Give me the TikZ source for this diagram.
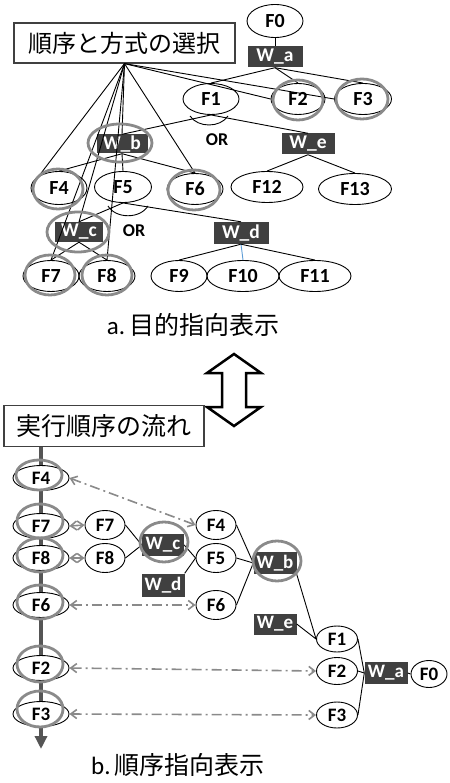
\documentclass[tikz,border=0pt]{standalone}
\usepackage{fontspec}
\setmainfont{Carlito}
\newfontfamily\jp{Noto Sans CJK JP}
\usetikzlibrary{arrows.meta,shapes.geometric}
\definecolor{wfill}{HTML}{404040}
\definecolor{gcol}{HTML}{8A8A8A}
\definecolor{flow}{HTML}{555555}
\definecolor{blueln}{HTML}{5B9BD5}
\tikzset{
  fn/.style={ellipse, draw, line width=0.9pt, inner sep=0pt, minimum width=56pt, minimum height=31pt, font=\bfseries\fontsize{20}{20}\selectfont},
  fw/.style={fn, minimum width=72pt},
  wbox/.style={rectangle, fill=wfill, text=white, inner sep=0pt, minimum width=53pt, minimum height=21pt, font=\bfseries\fontsize{19.5}{19.5}\selectfont},
  bn/.style={ellipse, draw, fill=white, line width=0.9pt, inner sep=0pt, minimum width=40pt, minimum height=29pt, font=\bfseries\fontsize{19}{19}\selectfont},
  ln/.style={ellipse, draw, fill=white, line width=0.9pt, inner sep=0pt, minimum width=56pt, minimum height=25pt, font=\bfseries\fontsize{19}{19}\selectfont},
  bw/.style={rectangle, fill=wfill, text=white, inner sep=0pt, minimum width=42pt, minimum height=22pt, font=\bfseries\fontsize{19}{19}\selectfont},
  ring/.style={draw=gcol, line width=2.8pt},
  conn/.style={draw, line width=0.9pt},
  titlebox/.style={rectangle, draw=wfill, line width=1.2pt, fill=white, inner sep=0pt, font=\jp\fontsize{24}{24}\selectfont},
  corr/.style={draw=gcol, line width=1.6pt, dash pattern=on 10pt off 4pt on 2pt off 4pt, {Straight Barb[length=6pt,width=9pt]}-{Straight Barb[length=6pt,width=9pt]}},
  captxt/.style={font=\fontsize{25}{25}\selectfont}
}
\begin{document}
\begin{tikzpicture}[x=1pt,y=-1pt]
\useasboundingbox (0,0) rectangle (449,783);
% ---------------- part a ----------------
\node[titlebox, minimum width=221pt, minimum height=40pt] (sel) at (124.5,43) {順序と方式の選択};
\node[fn, minimum height=33pt] (F0) at (275,21) {F0};
\node[wbox, minimum width=55pt] (Wa) at (275,57) {W\_a};
\node[fn] (F1) at (211,99) {F1};
\node[fn, minimum width=54pt] (F2) at (298,99) {F2};
\node[fn, minimum width=57pt] (F3) at (363,99) {F3};
\node[wbox, minimum width=51pt, minimum height=19pt] (Wb) at (122,144) {W\_b};
\node[wbox] (We) at (308,144) {W\_e};
\node[fn, minimum height=33pt] (F4) at (59,188) {F4};
\node[fn, minimum width=57pt] (F5) at (123,187) {F5};
\node[fn] (F6) at (195,189) {F6};
\node[fw] (F12) at (267,187) {F12};
\node[fw, minimum width=73pt] (F13) at (355,189) {F13};
\node[wbox, minimum width=48pt, minimum height=20pt] (Wc) at (79,232) {W\_c};
\node[wbox, minimum width=55pt, minimum height=22pt] (Wd) at (241,233) {W\_d};
\node[fn] (F7) at (51,276) {F7};
\node[fn] (F8) at (107,276) {F8};
\node[fn] (F9) at (179,276) {F9};
\node[fw] (F10) at (243,276) {F10};
\node[fw] (F11) at (315,276) {F11};
\node[font=\bfseries\fontsize{18}{18}\selectfont] (or1) at (217,140) {OR};
\node[font=\bfseries\fontsize{18}{18}\selectfont] (or2) at (134,231) {OR};
% tree connectors
\draw[conn] (F0.south) -- (Wa.north);
\draw[conn] (Wa.south) -- (F1.north);
\draw[conn] (Wa.south) -- (F2.north);
\draw[conn] (Wa.south) -- (F3.north);
\draw[conn] (F1.south) -- (Wb.north);
\draw[conn] (F1.south) -- (We.north);
\draw[conn] (190,116) .. controls (198,128) and (220,128) .. (228,116);
\draw[conn] (Wb.south) -- (F4.north);
\draw[conn] (Wb.south) -- (F5.north);
\draw[conn] (Wb.south) -- (F6.north);
\draw[conn] (We.south) -- (F12.north);
\draw[conn] (We.south) -- (F13.north);
\draw[conn] (F5.south) -- (Wc.north);
\draw[conn] (F5.south) -- (Wd.north);
\draw[conn] (108,206) .. controls (116,219) and (140,219) .. (148,206);
\draw[conn] (Wc.south) -- (F7.north);
\draw[conn] (Wc.south) -- (F8.north);
\draw[conn] (Wd.south) -- (F9.north);
\draw[conn, draw=blueln] (Wd.south) -- (F10.north);
\draw[conn] (Wd.south) -- (F11.north);
% selection lines
\draw[conn] (sel.south) -- (F4.north west);
\draw[conn] (sel.south) -- (Wb.north);
\draw[conn] (sel.south) -- (F7.north);
\draw[conn] (sel.south) -- (Wc.north);
\draw[conn] (sel.south) -- (F8.north);
\draw[conn] (sel.south) -- (F6.north);
\draw[conn] (sel.south) -- (F2.west);
\draw[conn] (sel.south) -- (F3.west);
% rings
\draw[ring] (298,100) ellipse [x radius=25, y radius=20];
\draw[ring] (362,99) ellipse [x radius=26, y radius=20];
\draw[ring] (120,143) ellipse [x radius=32, y radius=19];
\draw[ring] (58,189) ellipse [x radius=25, y radius=20];
\draw[ring] (194,190) ellipse [x radius=26, y radius=20];
\draw[ring] (78,232) ellipse [x radius=31, y radius=20];
\draw[ring] (50,275) ellipse [x radius=25, y radius=20];
\draw[ring] (107,275) ellipse [x radius=25, y radius=20];
\node[captxt] (capa) at (193,325) {a.\,{\jp 目的指向表示}};
% ---------------- double arrow ----------------
\draw[line width=2.5pt, line join=miter] (234,354) -- (207,373) -- (222,373) -- (222,407) -- (207,407) -- (234,426) -- (261,407) -- (246,407) -- (246,373) -- (261,373) -- cycle;
% ---------------- part b ----------------
\node[titlebox, minimum width=200pt, minimum height=41pt, font=\jp\fontsize{25}{25}\selectfont] (flowbox) at (104,426) {実行順序の流れ};
\coordinate (flowend) at (41,749);
\draw[flow, line width=4pt, -{Triangle[length=13pt,width=12pt]}] (41,447) -- (flowend);
\node[ln] (L4) at (41,478) {F4};
\node[ln] (L7) at (41,526) {F7};
\node[ln] (L8) at (41,558) {F8};
\node[ln] (L6) at (41,605) {F6};
\node[ln] (L2) at (41,668) {F2};
\node[ln] (L3) at (41,714) {F3};
\draw[ring] (39,475) ellipse [x radius=23, y radius=15];
\draw[ring] (40,521) ellipse [x radius=23, y radius=17];
\draw[ring] (40,555) ellipse [x radius=23, y radius=17];
\draw[ring] (40,602) ellipse [x radius=23, y radius=17];
\draw[ring] (40,664) ellipse [x radius=23, y radius=18];
\draw[ring] (40,709) ellipse [x radius=23, y radius=18];
\node[bn] (M7) at (105,525) {F7};
\node[bn] (M8) at (105,558) {F8};
\node[bw] (BWc) at (163,545) {W\_c};
\node[bw, minimum width=43pt, minimum height=23pt] (BWd) at (163,585) {W\_d};
\node[bn] (M4) at (216,525) {F4};
\node[bn] (M5) at (216,558) {F5};
\node[bn] (M6) at (216,605) {F6};
\node[bw, minimum width=43pt] (BWb) at (275,563) {W\_b};
\node[bw, minimum width=43pt, minimum height=21pt] (BWe) at (275,624) {W\_e};
\node[bn, minimum width=41pt, minimum height=26pt] (R1) at (337,639) {F1};
\node[bn, minimum width=41pt, minimum height=27pt] (R2) at (337,671) {F2};
\node[bn, minimum width=41pt, minimum height=26pt] (R3) at (337,715) {F3};
\node[bw, minimum width=43pt] (BWa) at (386,673) {W\_a};
\node[bn, minimum width=36pt, minimum height=27pt] (R0) at (429,674) {F0};
\draw[conn] (M7.east) -- (BWc.west);
\draw[conn] (M8.east) -- (BWc.west);
\draw[conn] (BWc.east) -- (M5.west);
\draw[conn] (BWd.north east) -- (M5.west);
\draw[conn] (M4.east) -- (BWb.west);
\draw[conn] (M5.east) -- (BWb.west);
\draw[conn] (M6.east) -- (BWb.west);
\draw[conn] (BWb.south east) -- (R1.west);
\draw[conn] (BWe.east) -- (R1.west);
\draw[conn] (R1.east) -- (BWa.west);
\draw[conn] (R2.east) -- (BWa.west);
\draw[conn] (R3.east) -- (BWa.west);
\draw[conn] (BWa.east) -- (R0.west);
\draw[ring] (164,542) ellipse [x radius=24, y radius=20];
\draw[ring] (277,561) ellipse [x radius=24, y radius=20];
% correspondence arrows
\draw[corr] (L4.east) -- (M4.west);
\draw[corr] (L7.east) -- (M7.west);
\draw[corr] (L8.east) -- (M8.west);
\draw[corr] (L6.east) -- (M6.west);
\draw[corr] (L2.east) -- (R2.west);
\draw[corr] (L3.east) -- (R3.west);
\node[captxt] (capb) at (178,765) {b.\,{\jp 順序指向表示}};
\end{tikzpicture}
\end{document}
